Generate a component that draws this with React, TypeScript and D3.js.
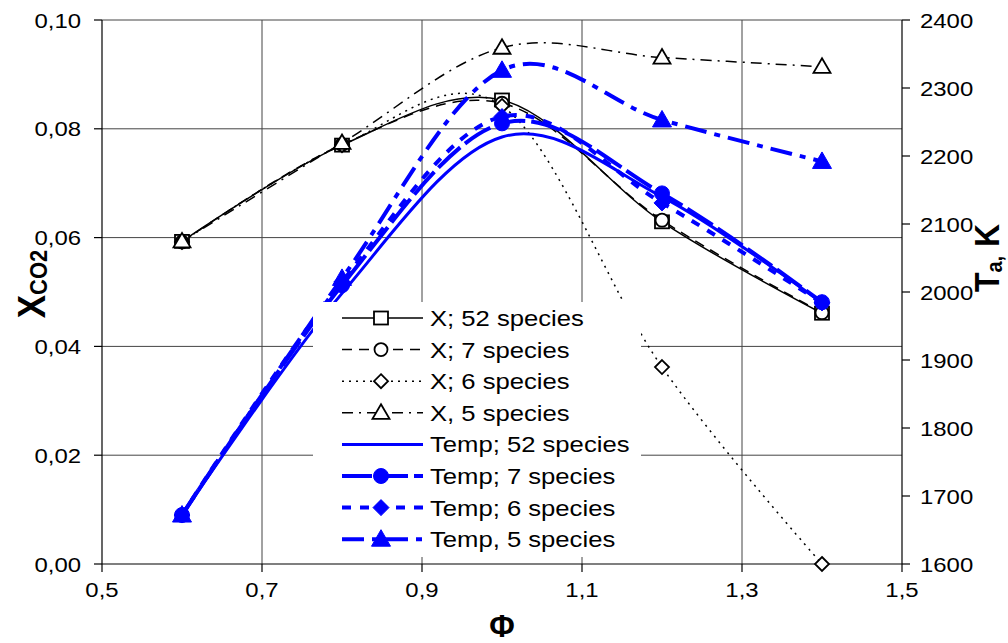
import React from "react";
import * as d3 from "d3";

// ---------- data ----------
const phi = [0.6, 0.8, 1.0, 1.2, 1.4];
const xCO2_52 = [0.0593, 0.077, 0.0853, 0.0629, 0.0461];
const xCO2_7 = [0.0592, 0.0771, 0.0847, 0.0632, 0.0462];
const xCO2_6 = [0.0592, 0.077, 0.0842, 0.0362, 0.0];
const xCO2_5 = [0.0593, 0.0774, 0.0949, 0.0931, 0.0914];
const temp_52 = [1672, 1998, 2228, 2140, 1984];
const temp_7 = [1672, 2010, 2248, 2145, 1985];
const temp_6 = [1672, 2015, 2258, 2131, 1984];
const temp_5 = [1672, 2020, 2326, 2253, 2192];

const xTicks = [0.5, 0.7, 0.9, 1.1, 1.3, 1.5];
const xTickLabels = ["0,5", "0,7", "0,9", "1,1", "1,3", "1,5"];
const leftTicks = [0, 0.02, 0.04, 0.06, 0.08, 0.1];
const leftTickLabels = ["0,00", "0,02", "0,04", "0,06", "0,08", "0,10"];
const rightTicks = [1600, 1700, 1800, 1900, 2000, 2100, 2200, 2300, 2400];

const legendLabels = [
  "X; 52 species",
  "X; 7 species",
  "X; 6 species",
  "X, 5 species",
  "Temp; 52 species",
  "Temp; 7 species",
  "Temp; 6 species",
  "Temp, 5 species",
];

// ---------- layout ----------
const W = 1008;
const H = 643;
const L = 102, R = 902, TOP = 20, BOT = 564;
const FONT = "'Liberation Sans', Arial, sans-serif";
const SX = 1.14;
const BLUE = "#0000ff";

const x = d3.scaleLinear().domain([0.5, 1.5]).range([L, R]);
const yL = d3.scaleLinear().domain([0, 0.1]).range([BOT, TOP]);
const yR = d3.scaleLinear().domain([1600, 2400]).range([BOT, TOP]);

type MarkerKind = "square" | "circle" | "diamond" | "triangle" | "none";

interface Series {
  values: number[];
  axis: "L" | "R";
  color: string;
  width: number;
  dash: string;
  marker: MarkerKind;
  filled: boolean;
}

const series: Series[] = [
  { values: xCO2_52, axis: "L", color: "#000", width: 1.5, dash: "", marker: "square", filled: false },
  { values: xCO2_7, axis: "L", color: "#000", width: 1.5, dash: "10,7", marker: "circle", filled: false },
  { values: xCO2_6, axis: "L", color: "#000", width: 1.5, dash: "2,5", marker: "diamond", filled: false },
  { values: xCO2_5, axis: "L", color: "#000", width: 1.5, dash: "11,6,2,6", marker: "triangle", filled: false },
  { values: temp_52, axis: "R", color: BLUE, width: 3, dash: "", marker: "none", filled: true },
  { values: temp_7, axis: "R", color: BLUE, width: 4, dash: "30,6", marker: "circle", filled: true },
  { values: temp_6, axis: "R", color: BLUE, width: 4, dash: "9,9", marker: "diamond", filled: true },
  { values: temp_5, axis: "R", color: BLUE, width: 4, dash: "22,8,6,8", marker: "triangle", filled: true },
];

function Marker({ kind, cx, cy, color, filled }: { kind: MarkerKind; cx: number; cy: number; color: string; filled: boolean }) {
  const fill = filled ? color : "#fff";
  const sw = filled ? 1 : 1.8;
  const s = filled ? 8 : 7;
  if (kind === "square")
    return <rect x={cx - s} y={cy - s + 0.5} width={2 * s} height={2 * s - 1} fill={fill} stroke={color} strokeWidth={sw} />;
  if (kind === "circle")
    return <circle cx={cx} cy={cy} r={s - 0.5} fill={fill} stroke={color} strokeWidth={sw} />;
  if (kind === "diamond")
    return <path d={`M${cx},${cy - s}L${cx + s},${cy}L${cx},${cy + s}L${cx - s},${cy}Z`} fill={fill} stroke={color} strokeWidth={sw} />;
  if (kind === "triangle")
    return <path d={`M${cx},${cy - s - 1.5}L${cx + s + 1.5},${cy + s - 1}L${cx - s - 1.5},${cy + s - 1}Z`} fill={fill} stroke={color} strokeWidth={sw} />;
  return null;
}

function Txt({ x, y, anchor = "start", size = 21, weight = "normal", children, sx = SX }: any) {
  return (
    <text transform={`translate(${x},${y}) scale(${sx},1)`} textAnchor={anchor} fontSize={size} fontWeight={weight} fontFamily={FONT} fill="#000">
      {children}
    </text>
  );
}

export default function App() {
  const lineFor = (s: Series) => {
    const yy = s.axis === "L" ? yL : yR;
    const pts = phi.map((p, i) => [x(p), yy(s.values[i])] as [number, number]);
    return d3.line().curve(d3.curveCardinal.tension(0))(pts) || "";
  };

  const legX0 = 342, legX1 = 423, legM = 381, legTextX = 430, legY0 = 318, legDy = 31.6;

  return (
    <svg width={W} height={H} style={{ position: "absolute", left: 0, top: 0, background: "#fff" }}>
      <rect x={0} y={0} width={W} height={H} fill="#fff" />
      {/* grid */}
      {xTicks.slice(1, -1).map((t) => (
        <line key={"gx" + t} x1={x(t)} x2={x(t)} y1={TOP} y2={BOT} stroke="#444" strokeWidth={1} />
      ))}
      {leftTicks.slice(1).map((t) => (
        <line key={"gy" + t} x1={L} x2={R} y1={yL(t)} y2={yL(t)} stroke="#444" strokeWidth={1} />
      ))}
      {/* axes */}
      <line x1={L} x2={L} y1={TOP} y2={BOT} stroke="#000" strokeWidth={1.2} />
      <line x1={R} x2={R} y1={TOP} y2={BOT} stroke="#000" strokeWidth={1.2} />
      <line x1={L} x2={R} y1={BOT} y2={BOT} stroke="#000" strokeWidth={1.2} />
      {xTicks.map((t, i) => (
        <g key={"xt" + t}>
          <line x1={x(t)} x2={x(t)} y1={BOT} y2={BOT + 8} stroke="#000" strokeWidth={1.2} />
          <Txt x={x(t)} y={BOT + 33} anchor="middle">{xTickLabels[i]}</Txt>
        </g>
      ))}
      {leftTicks.map((t, i) => (
        <g key={"yl" + t}>
          <line x1={L - 8} x2={L} y1={yL(t)} y2={yL(t)} stroke="#000" strokeWidth={1.2} />
          <Txt x={L - 21} y={yL(t) + 7.5} anchor="end">{leftTickLabels[i]}</Txt>
        </g>
      ))}
      {rightTicks.map((t) => (
        <g key={"yr" + t}>
          <line x1={R} x2={R + 8} y1={yR(t)} y2={yR(t)} stroke="#000" strokeWidth={1.2} />
          <Txt x={R + 18} y={yR(t) + 7.5} anchor="start">{String(t)}</Txt>
        </g>
      ))}

      {/* series lines */}
      {series.map((s, i) => (
        <path key={"l" + i} d={lineFor(s)} fill="none" stroke={s.color} strokeWidth={s.width} strokeDasharray={s.dash || undefined} strokeLinejoin="round" />
      ))}
      {/* markers */}
      {series.map((s, i) =>
        phi.map((p, j) => (
          <Marker key={"m" + i + "-" + j} kind={s.marker} cx={x(p)} cy={(s.axis === "L" ? yL : yR)(s.values[j])} color={s.color} filled={s.filled} />
        ))
      )}

      {/* legend */}
      <rect x={313} y={302} width={328} height={255} fill="#fff" />
      {series.map((s, i) => {
        const cy = legY0 + i * legDy;
        return (
          <g key={"lg" + i}>
            <line x1={legX0} x2={legX1} y1={cy} y2={cy} stroke={s.color} strokeWidth={s.width} strokeDasharray={s.dash || undefined} />
            <Marker kind={s.marker} cx={legM} cy={cy} color={s.color} filled={s.filled} />
            <Txt x={legTextX} y={cy + 8} size={22.5}>{legendLabels[i]}</Txt>
          </g>
        );
      })}

      {/* axis titles */}
      <Txt x={x(1.0)} y={637} anchor="middle" size={31} weight="bold" sx={1}>Φ</Txt>
      <text transform={`translate(45,284) scale(1.1,1) rotate(-90)`} textAnchor="middle" fontFamily={FONT} fontWeight="bold" fontSize={35}>
        X<tspan fontSize={22} dy={2}>CO2</tspan>
      </text>
      <text transform={`translate(999,258) scale(1.1,1) rotate(-90)`} textAnchor="middle" fontFamily={FONT} fontWeight="bold" fontSize={32}>
        T<tspan fontSize={20} dy={3}>a,</tspan><tspan dy={-3}> K</tspan>
      </text>
    </svg>
  );
}
